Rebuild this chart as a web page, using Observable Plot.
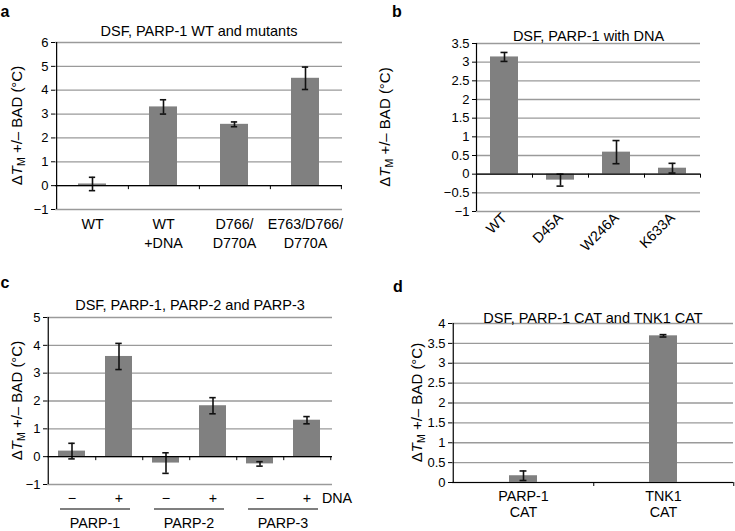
<!DOCTYPE html>
<html><head><meta charset="utf-8">
<script src="https://cdn.jsdelivr.net/npm/d3@7"></script>
<script src="https://cdn.jsdelivr.net/npm/@observablehq/plot@0.6"></script>
<style>
body{margin:0;background:#fff;}
#fig{position:relative;width:735px;height:531px;font-family:"Liberation Sans",Arial,sans-serif;overflow:hidden;}
.panel{position:absolute;}
.panel svg{overflow:visible;}
</style></head><body><div id="fig"></div>
<script>
// ---- data ----
const aCats = ["WT", "WT\n+DNA", "D766/\nD770A", "E763/D766/\nD770A"];
const aVals = [0.07, 3.3, 2.57, 4.5];
const aErrs = [0.28, 0.3, 0.1, 0.47];
const aTicks = [-1, 0, 1, 2, 3, 4, 5, 6];

const bCats = ["WT", "D45A", "W246A", "K633A"];
const bVals = [3.14, -0.16, 0.59, 0.16];
const bErrs = [0.12, 0.16, 0.31, 0.13];
const bTicks = [-1, -0.5, 0, 0.5, 1, 1.5, 2, 2.5, 3, 3.5];

const cCats = ["PARP-1 −", "PARP-1 +", "PARP-2 −", "PARP-2 +", "PARP-3 −", "PARP-3 +"];
const cDna = ["−", "+", "−", "+", "−", "+"];
const cGroups = ["PARP-1", "PARP-2", "PARP-3"];
const cVals = [0.2, 3.6, -0.23, 1.83, -0.26, 1.31];
const cErrs = [0.28, 0.47, 0.37, 0.29, 0.08, 0.13];
const cTicks = [-1, 0, 1, 2, 3, 4, 5];

const dCats = ["PARP-1\nCAT", "TNK1\nCAT"];
const dVals = [0.17, 3.69];
const dErrs = [0.12, 0.03];
const dTicks = [0, 0.5, 1, 1.5, 2, 2.5, 3, 3.5, 4];

const yLabelRest = " +/– BAD (°C)";
const FONT = '"Liberation Sans", Arial, sans-serif';

function fmt(d) { return d < 0 ? "\u2212" + Math.abs(d) : String(d); }

function makePanel(cfg) {
  const {cats, vals, errs, ticks, width, height, ml, mr, mt, mb, padding, title, titleDy,
         xFormat, tickRotate, lineHeight, tickPadding, left, top, letter, letterX, letterY, ylabX} = cfg;
  const data = cats.map((c, i) => ({c, v: vals[i], e: errs[i]}));
  const W = width - ml - mr;
  const step = W / cats.length;
  const bw = step * (1 - padding);
  const capW = 7;
  const plot = Plot.plot({
    width, height, marginLeft: ml, marginRight: mr, marginTop: mt, marginBottom: mb,
    style: {fontFamily: FONT, fontSize: "13px", color: "#000", background: "transparent", overflow: "visible"},
    x: {domain: cats, paddingInner: padding, paddingOuter: padding / 2, label: null},
    y: {domain: [ticks[0], ticks[ticks.length - 1]], label: null},
    marks: [
      Plot.ruleY(ticks, {stroke: "#9a9a9a", strokeWidth: 1.3}),
      Plot.barY(data, {x: "c", y: "v", fill: "#808080"}),
      Plot.ruleX(data, {x: "c", y1: d => d.v - d.e, y2: d => d.v + d.e, stroke: "#111", strokeWidth: 1.6}),
      Plot.tickY(data, {x: "c", y: d => d.v + d.e, inset: (bw - capW) / 2, stroke: "#111", strokeWidth: 1.6}),
      Plot.tickY(data, {x: "c", y: d => d.v - d.e, inset: (bw - capW) / 2, stroke: "#111", strokeWidth: 1.6}),
      Plot.ruleY([0], {stroke: "#000", strokeWidth: 1.2}),
      Plot.ruleX(cats, {x: d => d, y1: 0, y2: 0, insetBottom: -4, dx: step / 2, stroke: "#000"}),
      Plot.ruleX(cats.slice(0, 1), {x: d => d, dx: -step / 2, stroke: "#000", strokeWidth: 1.2}),
      Plot.axisY({ticks, tickFormat: fmt, tickSize: 4, tickPadding: 3, label: null, fontSize: 13}),
      Plot.axisX({tickSize: 0, tickPadding, tickFormat: xFormat, tickRotate, lineHeight, label: null, fontSize: 14.3}),
      Plot.text([title], {frameAnchor: "top", dy: titleDy, fontSize: 14.5})
    ]
  });
  const div = document.createElement("div");
  div.className = "panel";
  div.style.left = left + "px";
  div.style.top = top + "px";
  div.appendChild(plot);
  document.getElementById("fig").appendChild(div);
  const svg = d3.select(plot.tagName.toLowerCase() === "svg" ? plot : plot.querySelector("svg"));
  // panel letter
  svg.append("text").attr("x", letterX).attr("y", letterY).attr("font-size", 16)
    .attr("font-weight", "bold").attr("font-family", FONT).attr("fill", "#000").text(letter);
  // y label
  const cy = mt + (height - mt - mb) / 2;
  const t = svg.append("text").attr("transform", `translate(${ylabX},${cy}) rotate(-90)`)
    .attr("text-anchor", "middle").attr("font-size", 15).attr("font-family", FONT)
    .attr("fill", "#000").attr("dy", "0.35em");
  t.append("tspan").text("Δ");
  t.append("tspan").attr("font-style", "italic").text("T");
  t.append("tspan").attr("font-size", 10.5).attr("dy", 3).text("M");
  t.append("tspan").attr("dy", -3).text(yLabelRest);
  return {plot, svg};
}

makePanel({cats: aCats, vals: aVals, errs: aErrs, ticks: aTicks, width: 367, height: 265,
  ml: 55, mr: 25, mt: 42, mb: 56, padding: 0.6, title: "DSF, PARP-1 WT and mutants", titleDy: -17,
  xFormat: d => d, tickRotate: 0, lineHeight: 1.33, tickPadding: 6, left: 0, top: 0,
  letter: "a", letterX: 5, letterY: 17, ylabX: 17});

makePanel({cats: bCats, vals: bVals, errs: bErrs, ticks: bTicks, width: 368, height: 265,
  ml: 109, mr: 35, mt: 43, mb: 54, padding: 0.5, title: "DSF, PARP-1 with DNA", titleDy: -13,
  xFormat: d => d, tickRotate: -45, lineHeight: 1, tickPadding: 4, left: 367, top: 0,
  letter: "b", letterX: 30, letterY: 17, ylabX: 18});

const pc = makePanel({cats: cCats, vals: cVals, errs: cErrs, ticks: cTicks, width: 367, height: 266,
  ml: 47, mr: 35, mt: 52, mb: 47, padding: 0.42, title: "DSF, PARP-1, PARP-2 and PARP-3", titleDy: -18,
  xFormat: d => cDna[cCats.indexOf(d)], tickRotate: 0, lineHeight: 1, tickPadding: 8, left: 0, top: 265,
  letter: "c", letterX: 5, letterY: 23, ylabX: 17});

// panel c: DNA label, group underlines and group names
(function () {
  const svg = pc.svg;
  const xs = pc.plot.scale("x");
  const bw = xs.bandwidth;
  const yb = 266 - 47;
  svg.append("text").attr("x", 367 - 35 + 5).attr("y", yb + 14).attr("dy", "0.35em")
    .attr("font-size", 14.3).attr("font-family", FONT).attr("fill", "#000").text("DNA");
  cGroups.forEach((g, i) => {
    const x1 = xs.apply(cCats[2 * i]) + 2;
    const x2 = xs.apply(cCats[2 * i + 1]) + bw - 2;
    svg.append("line").attr("x1", x1).attr("x2", x2).attr("y1", yb + 25).attr("y2", yb + 25)
      .attr("stroke", "#000").attr("stroke-width", 1.2);
    svg.append("text").attr("x", (x1 + x2) / 2).attr("y", yb + 39).attr("dy", "0.35em")
      .attr("text-anchor", "middle").attr("font-size", 14.3).attr("font-family", FONT).attr("fill", "#000").text(g);
  });
})();

makePanel({cats: dCats, vals: dVals, errs: dErrs, ticks: dTicks, width: 368, height: 266,
  ml: 85, mr: 2, mt: 58, mb: 49, padding: 0.8, title: "DSF, PARP-1 CAT and TNK1 CAT", titleDy: -11,
  xFormat: d => d, tickRotate: 0, lineHeight: 1.12, tickPadding: 7, left: 367, top: 265,
  letter: "d", letterX: 31, letterY: 27, ylabX: 50});
</script>
</body></html>
